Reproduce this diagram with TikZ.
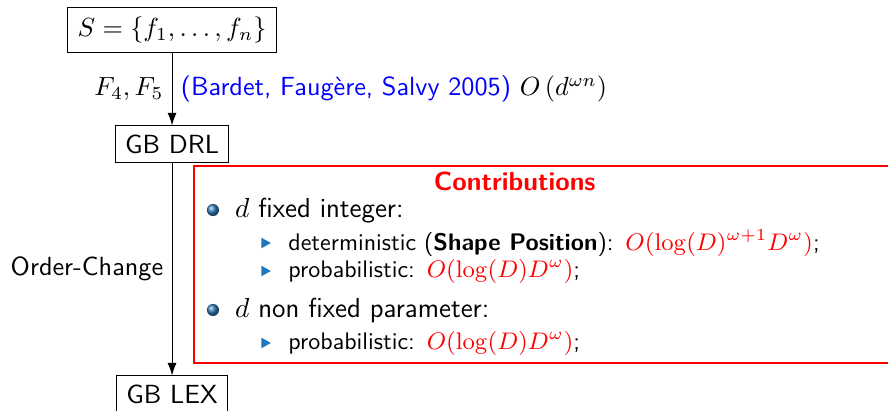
\RequirePackage{fix-cm}
\documentclass[tikz,border=0pt]{standalone}
\usetikzlibrary{arrows.meta}
\renewcommand{\familydefault}{\sfdefault}
\definecolor{cball}{RGB}{50,125,185}
\definecolor{ctri}{RGB}{30,120,190}

\begin{document}
\begin{tikzpicture}[>={Latex[length=5pt,width=3.6pt]}, font=\sffamily\fontsize{10.5}{12.6}\selectfont,
    gbox/.style={draw, inner xsep=4pt, minimum height=0.51cm},
    bulletitem/.style={anchor=base west, inner sep=0pt, font=\sffamily\fontsize{11}{13}\selectfont},
    subitem/.style={anchor=base west, inner sep=0pt, font=\sffamily\fontsize{9.6}{11.5}\selectfont}]
  \useasboundingbox (0,0) rectangle (12.49,5.78);
  \def\xa{2.42}    % column of the three boxes
  \def\xi{3.30}    % first level text
  \def\xs{4.05}    % second level text
  % the chain of boxes
  \node[gbox, minimum width=2.94cm, minimum height=0.63cm] (sys) at (\xa,5.357) {$S=\{f_1,\ldots,f_n\}$};
  \node[gbox] (drl) at (\xa,3.754) {GB DRL};
  \node[gbox, minimum height=0.52cm] (lex) at (\xa,0.232) {GB LEX};
  \draw[->] (sys) -- (drl)
    node[midway,left] {$F_4,F_5$}
    node[midway,right] {\textcolor{blue}{(Bardet, Faug\`ere, Salvy 2005)} $O\left(d^{\omega n}\right)$};
  \draw[->] (drl) -- (lex) node[midway,left] {Order-Change};
  % contributions block
  \draw[red, line width=0.8pt] (2.728,0.675) rectangle (12.8,3.445);
  \node[anchor=base, red, font=\sffamily\bfseries\fontsize{10.5}{12}\selectfont] (title) at (7.24,3.107) {Contributions};
  \foreach \y in {2.826,1.420}
    \shade[ball color=cball] (2.995,\y) circle (0.085);
  \foreach \y in {2.362,1.968,0.956}
    \fill[ctri] (3.675,\y-0.075) -- (3.81,\y) -- (3.675,\y+0.075) -- cycle;
  \node[bulletitem] (fixed) at (\xi,2.714) {$d$ fixed integer:};
  \node[subitem] (det) at (\xs,2.250) {deterministic (\textbf{Shape Position}):\ \,\textcolor{red}{$O(\log(D)^{\omega+1}D^{\omega})$};};
  \node[subitem] (prob) at (\xs,1.870) {probabilistic:\ \,\textcolor{red}{$O(\log(D)D^{\omega})$};};
  \node[bulletitem] (nonfixed) at (\xi,1.308) {$d$ non fixed parameter:};
  \node[subitem] (probnf) at (\xs,0.858) {probabilistic:\ \,\textcolor{red}{$O(\log(D)D^{\omega})$};};
\end{tikzpicture}
\end{document}
